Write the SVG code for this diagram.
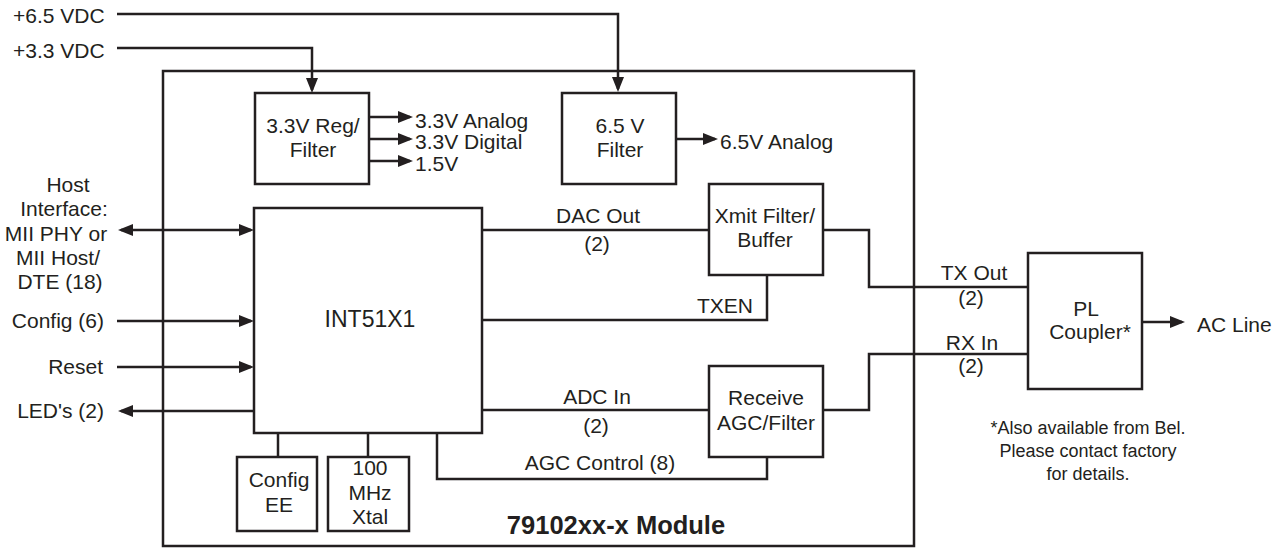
<svg xmlns="http://www.w3.org/2000/svg" width="1284" height="548" viewBox="0 0 1284 548">
<style>
.box{fill:none;stroke:#231f20;stroke-width:2.5}
.ln{fill:none;stroke:#231f20;stroke-width:2.5}
.arr{marker-end:url(#ah)}
.bi{marker-start:url(#ah);marker-end:url(#ah)}
text{font-family:"Liberation Sans",Arial,sans-serif;font-size:21px;fill:#231f20}
.m{text-anchor:middle}
.e{text-anchor:end}
.fn{font-size:18px}
.big{font-size:23px}
.bold{font-weight:bold;font-size:25.5px}
</style>
<defs>
<marker id="ah" markerUnits="userSpaceOnUse" markerWidth="15" markerHeight="12" refX="12" refY="6" orient="auto-start-reverse">
<path d="M0,0 L15,6 L0,12 z" fill="#231f20"/>
</marker>
</defs>
<rect width="1284" height="548" fill="#ffffff"/>

<g id="connectors">
<path class="ln arr" d="M117,14 H618 V89"/>
<path class="ln arr" d="M117,48 H312 V90"/>
<path class="ln arr" d="M369,117 H410"/>
<path class="ln arr" d="M369,139 H410"/>
<path class="ln arr" d="M369,161 H410"/>
<path class="ln arr" d="M676,139 H715"/>
<path class="ln bi" d="M121,230 H251"/>
<path class="ln arr" d="M117,321 H251"/>
<path class="ln arr" d="M117,367 H251"/>
<path class="ln arr" d="M254,411 H121"/>
<path class="ln" d="M482,230 H709"/>
<path class="ln" d="M482,320 H767 V275"/>
<path class="ln" d="M823,230 H869 V287 H1028"/>
<path class="ln" d="M482,410 H709"/>
<path class="ln" d="M823,410 H869 V354 H1028"/>
<path class="ln" d="M437,433 V479 H767 V457"/>
<path class="ln" d="M278,433 V457"/>
<path class="ln" d="M368,433 V457"/>
<path class="ln arr" d="M1142,322 H1182"/>
</g>

<g id="module">
<rect class="box" x="163" y="71" width="751" height="475"/>
<text class="bold m" x="616" y="534">79102xx-x Module</text>
</g>

<g id="reg33">
<rect class="box" x="255" y="93" width="114" height="91"/>
<text class="m" x="313" y="133">3.3V Reg/</text>
<text class="m" x="313" y="157">Filter</text>
</g>

<g id="filter65">
<rect class="box" x="562" y="93" width="114" height="91"/>
<text class="m" x="620" y="133">6.5 V</text>
<text class="m" x="620" y="157">Filter</text>
</g>

<g id="int51x1">
<rect class="box" x="254" y="208" width="228" height="225"/>
<text class="m big" x="370" y="327">INT51X1</text>
</g>

<g id="xmit">
<rect class="box" x="709" y="184" width="114" height="91"/>
<text class="m" x="765" y="223">Xmit Filter/</text>
<text class="m" x="765" y="247">Buffer</text>
</g>

<g id="receive">
<rect class="box" x="709" y="366" width="114" height="91"/>
<text class="m" x="766" y="405">Receive</text>
<text class="m" x="766" y="430">AGC/Filter</text>
</g>

<g id="configee">
<rect class="box" x="237" y="457" width="80" height="74"/>
<text class="m" x="279" y="487">Config</text>
<text class="m" x="279" y="512">EE</text>
</g>

<g id="xtal">
<rect class="box" x="328" y="457" width="81" height="74"/>
<text class="m" x="370" y="475">100</text>
<text class="m" x="370" y="500">MHz</text>
<text class="m" x="370" y="524">Xtal</text>
</g>

<g id="plcoupler">
<rect class="box" x="1028" y="253" width="114" height="136"/>
<text class="m" x="1086" y="316">PL</text>
<text class="m" x="1090" y="339">Coupler*</text>
</g>

<g id="labels">
<text x="13" y="23">+6.5 VDC</text>
<text x="13" y="58">+3.3 VDC</text>
<text x="415" y="128">3.3V Analog</text>
<text x="415" y="149">3.3V Digital</text>
<text x="415" y="171">1.5V</text>
<text x="720" y="149">6.5V Analog</text>
<text class="m" x="68" y="192">Host</text>
<text class="m" x="64" y="216">Interface:</text>
<text class="m" x="56" y="241">MII PHY or</text>
<text class="m" x="58" y="265">MII Host/</text>
<text class="m" x="60" y="289">DTE (18)</text>
<text class="e" x="104" y="328">Config (6)</text>
<text class="e" x="103" y="374">Reset</text>
<text class="e" x="104" y="418">LED's (2)</text>
<text class="m" x="598" y="223">DAC Out</text>
<text class="m" x="597" y="251">(2)</text>
<text class="e" x="753" y="313">TXEN</text>
<text class="m" x="597" y="404">ADC In</text>
<text class="m" x="596" y="433">(2)</text>
<text class="m" x="600" y="470">AGC Control (8)</text>
<text class="m" x="974" y="280">TX Out</text>
<text class="m" x="971" y="305">(2)</text>
<text class="m" x="972" y="350">RX In</text>
<text class="m" x="971" y="373">(2)</text>
<text x="1197" y="332">AC Line</text>
<text class="m fn" x="1088" y="434">*Also available from Bel.</text>
<text class="m fn" x="1088" y="457">Please contact factory</text>
<text class="m fn" x="1088" y="480">for details.</text>
</g>
</svg>
